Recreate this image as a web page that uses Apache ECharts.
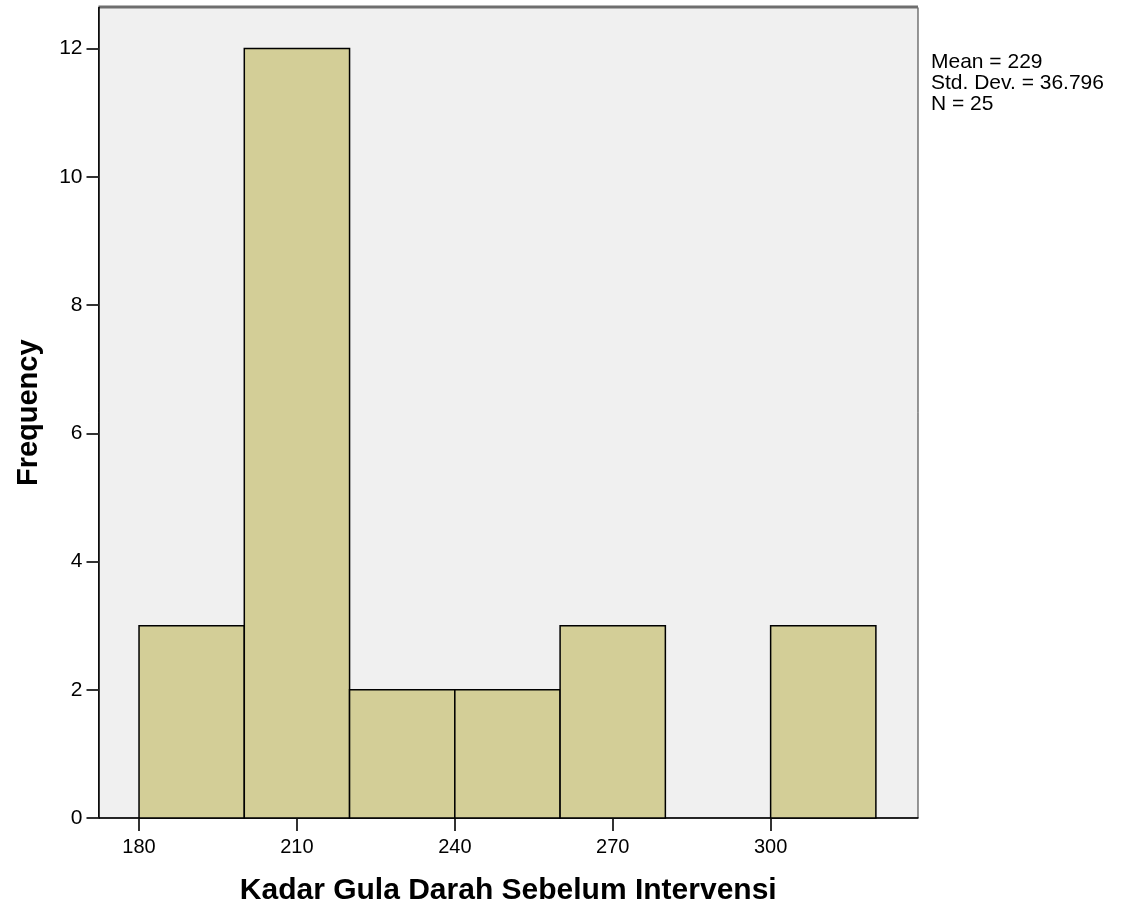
<!DOCTYPE html>
<html>
<head>
<meta charset="utf-8">
<style>
  html, body { margin: 0; padding: 0; background: #ffffff; }
  #chart { width: 1123px; height: 911px; }
</style>
<script src="https://cdn.jsdelivr.net/npm/echarts@6/dist/echarts.min.js"></script>
</head>
<body>
<div id="chart"></div>
<script>
// Histogram bins: lower edge of each bin, bin width and frequency
const binStarts = [180, 200, 220, 240, 260, 280, 300];
const binWidth = 20;
const frequencies = [3, 12, 2, 2, 3, 0, 3];

// Tick labels
const xTicks = [180, 210, 240, 270, 300];
const yTicks = [0, 2, 4, 6, 8, 10, 12];

// Summary statistics
const statLines = ['Mean = 229', 'Std. Dev. = 36.796', 'N = 25'];

const FONT = '"Liberation Sans", Arial, sans-serif';

const bins = binStarts.map((s, i) => [s, s + binWidth, frequencies[i]]);

const chart = echarts.init(document.getElementById('chart'), null, { renderer: 'canvas' });

chart.setOption({
  animation: false,
  backgroundColor: '#ffffff',
  grid: {
    left: 98.5, right: 205, top: 7.5, bottom: 93,
    show: true,
    backgroundColor: '#f0f0f0',
    borderColor: '#333333',
    borderWidth: 1
  },
  xAxis: {
    type: 'value',
    min: 172.3,
    max: 328,
    name: 'Kadar Gula Darah Sebelum Intervensi',
    nameLocation: 'middle',
    nameGap: 73,
    nameMoveOverlap: false,
    nameTextStyle: { fontFamily: FONT, fontSize: 30, fontWeight: 'bold', color: '#000', verticalAlign: 'middle' },
    axisLine: { show: true, onZero: false, lineStyle: { color: '#000', width: 1.5 } },
    axisTick: { show: true, length: 13, customValues: xTicks, lineStyle: { color: '#333', width: 2 } },
    axisLabel: { customValues: xTicks, margin: 19, fontFamily: FONT, fontSize: 20, color: '#000' },
    splitLine: { show: false }
  },
  yAxis: {
    type: 'value',
    min: 0,
    max: 12.64,
    name: 'Frequency',
    nameLocation: 'middle',
    nameGap: 70,
    nameMoveOverlap: false,
    nameTextStyle: { fontFamily: FONT, fontSize: 29, fontWeight: 'bold', color: '#000', verticalAlign: 'middle' },
    axisLine: { show: true, onZero: false, lineStyle: { color: '#000', width: 1.5 } },
    axisTick: { show: true, length: 12, customValues: yTicks, lineStyle: { color: '#333', width: 2 } },
    axisLabel: { customValues: yTicks, margin: 16, fontFamily: FONT, fontSize: 21, color: '#000' },
    splitLine: { show: false }
  },
  series: [{
    type: 'custom',
    data: bins,
    encode: { x: [0, 1], y: 2 },
    renderItem: function (params, api) {
      const count = api.value(2);
      if (!count) return null;
      const p0 = api.coord([api.value(0), count]);
      const p1 = api.coord([api.value(1), 0]);
      return {
        type: 'rect',
        shape: { x: p0[0], y: p0[1], width: p1[0] - p0[0], height: p1[1] - p0[1] },
        style: { fill: '#d3ce97', stroke: '#000000', lineWidth: 1.5 }
      };
    }
  }],
  graphic: [
    {
      type: 'line',
      shape: { x1: 98.5, y1: 7, x2: 918, y2: 7 },
      style: { stroke: '#6e6e6e', lineWidth: 3 }
    },
    {
      type: 'text',
      left: 931,
      top: 52,
      style: {
        text: statLines.join('\n'),
        fontFamily: FONT,
        fontSize: 21,
        lineHeight: 21,
        fill: '#000'
      }
    }
  ]
});
</script>
</body>
</html>
